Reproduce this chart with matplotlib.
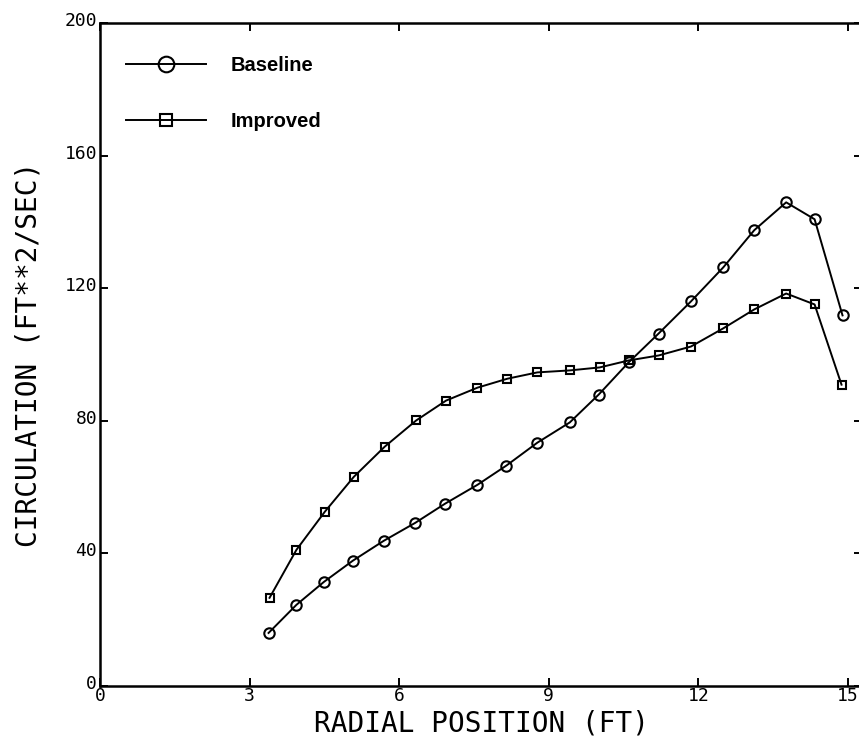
import matplotlib
matplotlib.use("Agg")
import matplotlib.pyplot as plt
import matplotlib.transforms as mtransforms

# Data
radial_baseline = [3.38, 3.94, 4.49, 5.07, 5.69, 6.32, 6.92, 7.57, 8.15, 8.77,
                   9.42, 10.0, 10.6, 11.2, 11.85, 12.5, 13.12, 13.76, 14.33, 14.89]
circ_baseline = [16.0, 24.5, 31.4, 37.8, 43.8, 49.2, 55.0, 60.7, 66.5, 73.4,
                 79.5, 87.9, 97.6, 106.3, 116.0, 126.3, 137.5, 145.9, 140.8, 111.8]
radial_improved = [3.40, 3.94, 4.51, 5.09, 5.71, 6.34, 6.94, 7.57, 8.17, 8.77,
                   9.42, 10.02, 10.6, 11.2, 11.85, 12.5, 13.12, 13.76, 14.33, 14.87]
circ_improved = [26.6, 41.1, 52.6, 63.1, 72.2, 80.1, 86.1, 90.0, 92.7, 94.6,
                 95.2, 96.1, 98.2, 99.7, 102.4, 107.9, 113.6, 118.4, 115.1, 90.9]
x_ticks = [0, 3, 6, 9, 12, 15]
y_ticks = [0, 40, 80, 120, 160, 200]
x_label = "RADIAL POSITION (FT)"
y_label = "CIRCULATION (FT**2/SEC)"

W, H = 859, 738
fig = plt.figure(figsize=(W / 100, H / 100), dpi=100)
left, right, bottom, top = 100, 862, 686, 23
ax = fig.add_axes([left / W, (H - bottom) / H, (right - left) / W, (bottom - top) / H])
ax.set_xlim(0, 15 * (right - left) / (848 - left))
ax.set_ylim(0, 200)

ax.plot(radial_baseline, circ_baseline, color="black", lw=1.4, marker="o",
        ms=7.5, mfc="none", mec="black", mew=1.5, label="Baseline")
ax.plot(radial_improved, circ_improved, color="black", lw=1.4, marker="s",
        ms=5.5, mfc="none", mec="black", mew=1.5, label="Improved")

for s in ax.spines.values():
    s.set_linewidth(1.8)

ax.set_xticks(x_ticks)
ax.set_xticklabels([str(v) for v in x_ticks], family="DejaVu Sans Mono", fontsize=13)
ax.set_yticks(y_ticks)
ax.set_yticklabels([str(v) for v in y_ticks], family="DejaVu Sans Mono", fontsize=13)
ax.tick_params(direction="in", length=6, width=1.4, top=True, right=True, pad=2)
ax.tick_params(axis="x", pad=1)

shift = mtransforms.ScaledTranslation(0, 4 / 100, fig.dpi_scale_trans)
for lbl in ax.get_yticklabels():
    lbl.set_transform(lbl.get_transform() + shift)

ax.set_xlabel(x_label, fontsize=20, family="DejaVu Sans Mono", labelpad=3)
ax.set_ylabel(y_label, fontsize=20, family="DejaVu Sans Mono", labelpad=16)

leg = ax.legend(loc="upper left", bbox_to_anchor=(0.034, 0.95), borderaxespad=0,
                borderpad=0, frameon=False, handlelength=4.0, handletextpad=1.2,
                labelspacing=1.85, markerscale=1.5,
                prop={"family": "Liberation Sans", "weight": "bold", "size": 14.5})

fig.savefig("out.png", dpi=100)
